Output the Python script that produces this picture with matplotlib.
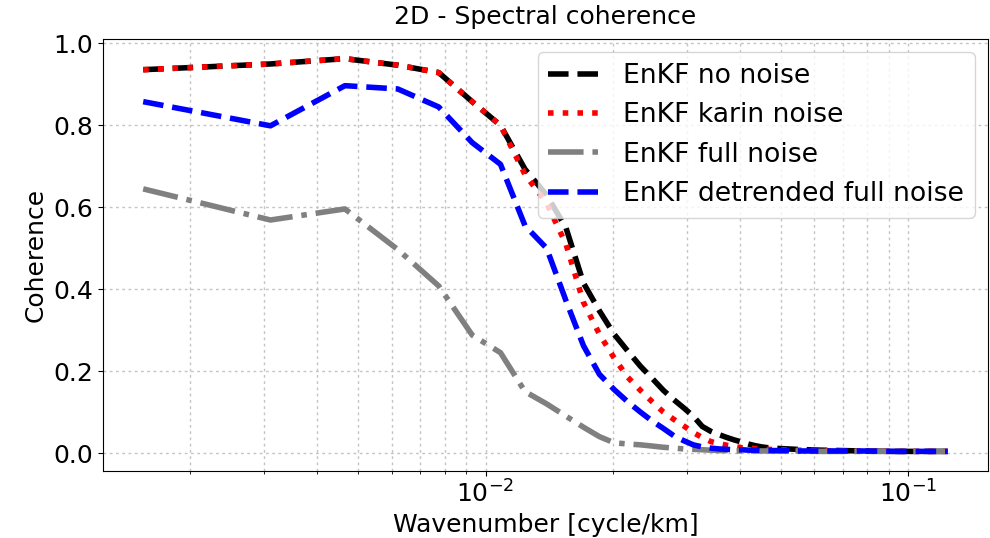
import numpy as np
import matplotlib
matplotlib.use("Agg")
import matplotlib.pyplot as plt

# spectral mode numbers and wavenumber step [cycle/km]
modes = [1, 2, 3, 4, 5, 6, 7, 8, 9, 10, 11, 12, 13, 14, 15, 16, 17, 18, 19, 20,
         21, 22, 23, 24, 25, 26, 27, 28, 29, 30, 32, 35, 40, 45, 50, 60, 70, 80]
dk = 0.00155

coh_no_noise = [0.936, 0.950, 0.963, 0.947, 0.929, 0.858, 0.800, 0.693, 0.630, 0.550,
                0.415, 0.347, 0.290, 0.249, 0.212, 0.182, 0.153, 0.130, 0.110, 0.090,
                0.065, 0.053, 0.045, 0.038, 0.032, 0.027, 0.022, 0.018, 0.015, 0.013,
                0.011, 0.009, 0.007, 0.006, 0.005, 0.004, 0.004, 0.004]
coh_karin = [0.936, 0.950, 0.963, 0.947, 0.929, 0.858, 0.800, 0.680, 0.610, 0.510,
             0.368, 0.290, 0.232, 0.185, 0.153, 0.125, 0.100, 0.082, 0.066, 0.050,
             0.038, 0.028, 0.023, 0.019, 0.016, 0.013, 0.012, 0.011, 0.010, 0.009,
             0.008, 0.007, 0.006, 0.005, 0.005, 0.004, 0.004, 0.004]
coh_full = [0.645, 0.569, 0.596, 0.497, 0.408, 0.288, 0.245, 0.150, 0.120, 0.090,
            0.063, 0.040, 0.025, 0.022, 0.020, 0.017, 0.014, 0.012, 0.010, 0.009,
            0.008, 0.007, 0.006, 0.006, 0.005, 0.005, 0.005, 0.005, 0.005, 0.005,
            0.005, 0.005, 0.004, 0.004, 0.004, 0.004, 0.004, 0.004]
coh_detrended = [0.858, 0.799, 0.897, 0.889, 0.845, 0.758, 0.705, 0.555, 0.500, 0.372,
                 0.262, 0.192, 0.155, 0.125, 0.100, 0.078, 0.060, 0.042, 0.030, 0.020,
                 0.015, 0.012, 0.010, 0.009, 0.008, 0.008, 0.007, 0.007, 0.006, 0.006,
                 0.006, 0.005, 0.005, 0.005, 0.005, 0.004, 0.004, 0.004]

k = np.array(modes) * dk

plt.rcParams["font.size"] = 18

fig, ax = plt.subplots(figsize=(9.9, 5.38), dpi=100)
fig.subplots_adjust(left=0.104, right=0.998, bottom=0.1245, top=0.9275)

lw = 4
ax.plot(k, coh_no_noise, "--", color="black", lw=lw, label="EnKF no noise")
ax.plot(k, coh_karin, ":", color="red", lw=lw, label="EnKF karin noise")
ax.plot(k, coh_full, "-.", color="grey", lw=lw, label="EnKF full noise")
ax.plot(k, coh_detrended, "--", color="blue", lw=lw, label="EnKF detrended full noise")

ax.set_xscale("log")
ax.grid(True, which="both", linestyle=(0, (2, 2.5)), color="#c4c4c4", linewidth=1.0)
ax.set_title("2D - Spectral coherence", fontsize=18, pad=11)
ax.set_xlabel("Wavenumber [cycle/km]", fontsize=18)
ax.set_ylabel("Coherence", fontsize=18)
ax.tick_params(labelsize=18)
ax.legend(loc="upper right", fontsize=19.2)

fig.savefig("out.png", dpi=100)
